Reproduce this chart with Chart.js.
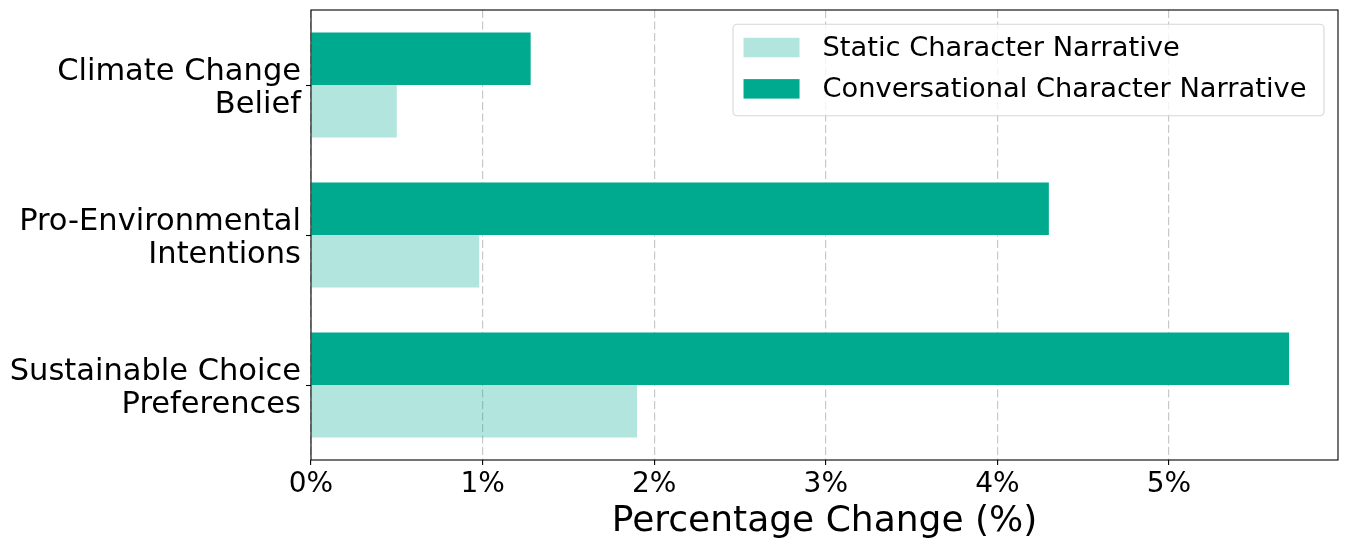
<!DOCTYPE html>
<html>
<head>
<meta charset="utf-8">
<script src="https://cdn.jsdelivr.net/npm/chart.js@4.4.1/dist/chart.umd.min.js"></script>
<style>
    html, body { margin: 0; padding: 0; background: #fff; }
    #wrap { width: 1348px; height: 548px; position: relative; }
</style>
</head>
<body>
<div id="wrap"><canvas id="barChart"></canvas></div>
<script>
const categories = [
    ['Climate Change', 'Belief'],
    ['Pro-Environmental', 'Intentions'],
    ['Sustainable Choice', 'Preferences']
];
const staticValues = [0.5, 0.98, 1.9];
const conversationalValues = [1.28, 4.3, 5.7];
const xTicks = [0, 1, 2, 3, 4, 5];

const FONT = "'DejaVu Sans', sans-serif";

// black frame round the plot + legend box in the upper right corner
const frameAndLegend = {
    id: 'frameAndLegend',
    afterDraw(chart) {
        const ctx = chart.ctx;
        const a = chart.chartArea;
        ctx.save();
        ctx.strokeStyle = '#000';
        ctx.lineWidth = 1.1;
        ctx.strokeRect(a.left, a.top, a.right - a.left, a.bottom - a.top);

        const items = chart.data.datasets.slice().reverse();
        ctx.font = "27.3px " + FONT;
        let textW = 0;
        items.forEach(d => { textW = Math.max(textW, ctx.measureText(d.label).width); });
        const w = 10.5 + 56 + 23 + textW + 17.5;
        const h = 91.5;
        const x0 = a.right - 14 - w;
        const y0 = a.top + 14.3;

        ctx.beginPath();
        ctx.roundRect(x0, y0, w, h, 4);
        ctx.fillStyle = 'rgba(255,255,255,0.8)';
        ctx.fill();
        ctx.strokeStyle = '#d6d6d6';
        ctx.lineWidth = 1.1;
        ctx.stroke();

        ctx.textAlign = 'left';
        ctx.textBaseline = 'middle';
        items.forEach((d, i) => {
            const cy = y0 + 23.2 + i * 41.3;
            ctx.fillStyle = d.backgroundColor;
            ctx.fillRect(x0 + 10.5, cy - 9.7, 56, 19.5);
            ctx.fillStyle = '#000';
            ctx.fillText(d.label, x0 + 10.5 + 56 + 23, cy + 1);
        });
        ctx.restore();
    }
};

const ctx = document.getElementById('barChart').getContext('2d');
const myChart = new Chart(ctx, {
    type: 'bar',
    plugins: [frameAndLegend],
    data: {
        labels: categories,
        datasets: [
            {
                label: 'Conversational Character Narrative',
                data: conversationalValues,
                backgroundColor: '#00aa8f',
                borderWidth: 0,
                categoryPercentage: 0.7,
                barPercentage: 1.0
            },
            {
                label: 'Static Character Narrative',
                data: staticValues,
                backgroundColor: 'rgba(0,170,143,0.3)',
                borderWidth: 0,
                categoryPercentage: 0.7,
                barPercentage: 1.0
            }
        ]
    },
    options: {
        indexAxis: 'y',
        responsive: true,
        maintainAspectRatio: false,
        animation: false,
        layout: {
            padding: { top: 10, right: 10, left: 0, bottom: 0 }
        },
        plugins: {
            legend: { display: false },
            tooltip: { enabled: false },
            title: { display: false }
        },
        scales: {
            x: {
                type: 'linear',
                min: 0,
                max: 5.985,
                afterBuildTicks: function (scale) {
                    scale.ticks = xTicks.map(v => ({ value: v }));
                },
                afterFit: function (scale) {
                    scale.height = 88;
                },
                grid: {
                    color: 'rgba(176,176,176,0.7)',
                    lineWidth: 1.2,
                    drawTicks: true,
                    tickLength: 5,
                    tickColor: '#000',
                    tickWidth: 1.1,
                    tickBorderDash: []
                },
                border: { display: false, dash: [8, 3.5] },
                ticks: {
                    color: '#000',
                    padding: 3,
                    maxRotation: 0,
                    font: { size: 28, family: FONT },
                    callback: function (value) {
                        return value + '%';
                    }
                },
                title: {
                    display: true,
                    text: 'Percentage Change (%)',
                    color: '#000',
                    font: { size: 36, family: FONT },
                    padding: { top: 2, bottom: 5 }
                }
            },
            y: {
                type: 'category',
                afterFit: function (scale) {
                    scale.width = 311;
                    scale.paddingTop = 0;
                    scale.paddingBottom = 0;
                },
                grid: {
                    offset: false,
                    drawOnChartArea: false,
                    drawTicks: true,
                    tickLength: 5,
                    tickColor: '#000',
                    tickWidth: 1.1
                },
                border: { display: false },
                ticks: {
                    color: '#000',
                    padding: 5,
                    labelOffset: 3.5,
                    font: { size: 30.5, family: FONT, lineHeight: 1.1 }
                }
            }
        }
    }
});
</script>
</body>
</html>
